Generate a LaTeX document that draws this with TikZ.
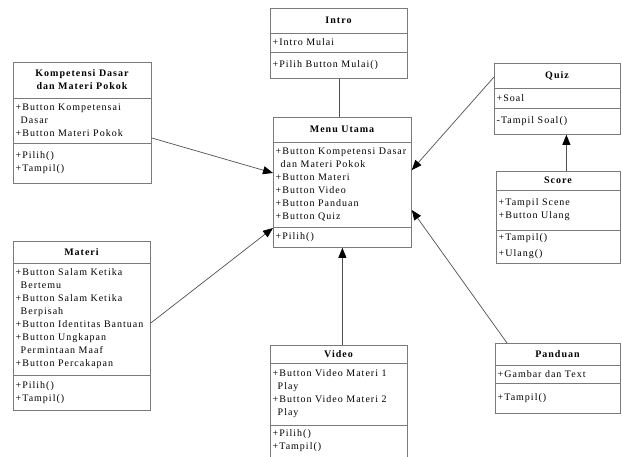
\documentclass[tikz,border=0pt]{standalone}
\usepackage{fontspec}
\setmainfont{Liberation Serif}[LetterSpace=10]
\usetikzlibrary{arrows.meta,calc}
\definecolor{boxgray}{HTML}{7A7A7A}
\definecolor{linegray}{HTML}{505050}
\newcommand\classbox[7]{%
  \node[cbox, minimum width={(#4-#2)*1pt}, minimum height={(#5-#3)*1pt}, anchor=north west] (#1) at (#2,#3) {};
  \draw[divider] (#2,#6) -- (#4,#6) (#2,#7) -- (#4,#7);
}
\newcommand\ind{\mbox{}\hspace*{5pt}}
\begin{document}
\begin{tikzpicture}[x=1pt,y=-1pt,
  cbox/.style={draw=boxgray, line width=0.8pt, inner sep=0pt},
  divider/.style={draw=boxgray, line width=0.8pt},
  ttl/.style={font=\fontsize{10}{13}\selectfont\bfseries, align=center, inner sep=0pt},
  txt/.style={font=\fontsize{10}{13}\selectfont, align=left, inner sep=0pt, anchor=west},
  conn/.style={draw=linegray, line width=0.7pt, -{Triangle[length=10pt,width=8pt,black]}},
  plain/.style={draw=linegray, line width=0.7pt}]
\useasboundingbox (0,0) rectangle (622,456);
\clip (0,0) rectangle (622,456);

% Intro
\classbox{intro}{270}{8}{407}{78}{33}{52}
\node[ttl] (intro-t) at (338.5,20.5) {Intro};
\node[txt] (intro-a) at (272.5,42.5) {+Intro Mulai};
\node[txt] (intro-m) at (272.5,65) {+Pilih Button Mulai()};

% Kompetensi Dasar
\classbox{komp}{13}{62}{151}{183}{98}{143}
\node[ttl] (komp-t) at (82,80) {Kompetensi Dasar\\dan Materi Pokok};
\node[txt] (komp-a) at (15.5,120.5) {+Button Kompetensai\\\ind Dasar\\+Button Materi Pokok};
\node[txt] (komp-m) at (15.5,163) {+Pilih()\\+Tampil()};

% Menu Utama
\classbox{menu}{273}{117}{411}{247}{142}{227}
\node[ttl] (menu-t) at (342,129.5) {Menu Utama};
\node[txt] (menu-a) at (275.5,184.5) {+Button Kompetensi Dasar\\\ind dan Materi Pokok\\+Button Materi\\+Button Video\\+Button Panduan\\+Button Quiz};
\node[txt] (menu-m) at (275.5,237) {+Pilih()};

% Quiz
\classbox{quiz}{494}{63}{620}{134}{88}{108}
\node[ttl] (quiz-t) at (557,75.5) {Quiz};
\node[txt] (quiz-a) at (496.5,98) {+Soal};
\node[txt] (quiz-m) at (496.5,121) {-Tampil Soal()};

% Score
\classbox{score}{496}{171}{620}{263}{190}{230}
\node[ttl] (score-t) at (558,180.5) {Score};
\node[txt] (score-a) at (498.5,210) {+Tampil Scene\\+Button Ulang};
\node[txt, font=\fontsize{10}{16}\selectfont] (score-m) at (498.5,246.5) {+Tampil()\\+Ulang()};

% Materi
\classbox{materi}{13}{241}{150}{410}{263}{375}
\node[ttl] (materi-t) at (81.5,252) {Materi};
\node[txt] (materi-a) at (15.5,319) {+Button Salam Ketika\\\ind Bertemu\\+Button Salam Ketika\\\ind Berpisah\\+Button Identitas Bantuan\\+Button Ungkapan\\\ind Permintaan Maaf\\+Button Percakapan};
\node[txt] (materi-m) at (15.5,392.5) {+Pilih()\\+Tampil()};

% Video
\classbox{video}{270}{345}{407}{462}{363}{425}
\node[ttl] (video-t) at (338.5,354) {Video};
\node[txt] (video-a) at (272.5,394) {+Button Video Materi 1\\\ind Play\\+Button Video Materi 2\\\ind Play};
\node[txt] (video-m) at (272.5,440.5) {+Pilih()\\+Tampil()};

% Panduan
\classbox{panduan}{495}{343}{620}{413}{365}{383}
\node[ttl] (panduan-t) at (557.5,354) {Panduan};
\node[txt] (panduan-a) at (497.5,374) {+Gambar dan Text};
\node[txt] (panduan-m) at (497.5,398) {+Tampil()};

% Connectors
\coordinate (sq) at ($(score.north)+(8,0)$);
\draw[plain] (intro.south) -- (intro.south |- menu.north);
\draw[conn] ($(komp.north east)+(0,76)$) -- ($(menu.north west)+(0,56)$);
\draw[conn] ($(materi.north east)+(0,82)$) -- ($(menu.north west)+(0,111)$);
\draw[conn] ($(quiz.north west)+(0,14)$) -- ($(menu.north east)+(0,53)$);
\draw[conn] ($(panduan.north west)+(12,0)$) -- ($(menu.north east)+(0,93)$);
\draw[conn] (sq) -- (sq |- quiz.south);
\draw[conn] (video.north -| menu.south) -- (menu.south);
\end{tikzpicture}
\end{document}
